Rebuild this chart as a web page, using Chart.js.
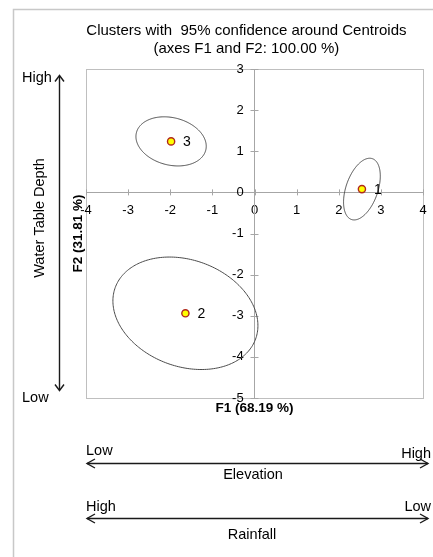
<!DOCTYPE html>
<html>
<head>
<meta charset="utf-8">
<script src="https://cdn.jsdelivr.net/npm/chart.js@4/dist/chart.umd.min.js"></script>
<style>
html,body{margin:0;padding:0;background:#fff;}
canvas{display:block;}
</style>
</head>
<body>
<canvas id="c" width="433" height="557"></canvas>
<script>
// ---- data ----
const clusterLabels = ['1', '2', '3'];
const centroidF1 = [2.55, -1.64, -1.98];
const centroidF2 = [0.08, -2.94, 1.24];
// 95% confidence ellipses (data units, angle in degrees from +F1 axis)
const ellipseSemiMajor = [0.78, 1.78, 0.85];
const ellipseSemiMinor = [0.38, 1.29, 0.575];
const ellipseAngleDeg = [71.7, -21.7, -15];
const f1Ticks = [-4, -3, -2, -1, 0, 1, 2, 3, 4];
const f2Ticks = [-5, -4, -3, -2, -1, 0, 1, 2, 3];
const titleLines = ['Clusters with  95% confidence around Centroids', '(axes F1 and F2: 100.00 %)'];
const f1Title = 'F1 (68.19 %)';
const f2Title = 'F2 (31.81 %)';

const FONT = "'Liberation Sans', Arial, sans-serif";
Chart.defaults.font.family = FONT;
Chart.defaults.color = '#000';

function chevron(ctx, tipX, tipY, dirX, dirY, len, half) {
  const bx = tipX - dirX * len, by = tipY - dirY * len;
  const px = -dirY, py = dirX;
  ctx.beginPath();
  ctx.moveTo(bx + px * half, by + py * half);
  ctx.lineTo(tipX, tipY);
  ctx.lineTo(bx - px * half, by - py * half);
  ctx.stroke();
}

const decor = {
  id: 'decor',
  beforeDraw(chart) {
    const ctx = chart.ctx;
    ctx.save();
    ctx.strokeStyle = '#C8C8C8';
    ctx.lineWidth = 1.5;
    ctx.beginPath();
    ctx.moveTo(13.5, 557);
    ctx.lineTo(13.5, 9.5);
    ctx.lineTo(433, 9.5);
    ctx.stroke();
    const ca = chart.chartArea;
    ctx.strokeStyle = '#BFBFBF';
    ctx.lineWidth = 1;
    ctx.strokeRect(Math.round(ca.left) + 0.5, Math.round(ca.top) + 0.5,
      Math.round(ca.right - ca.left), Math.round(ca.bottom - ca.top));
    ctx.restore();
  },
  beforeDatasetsDraw(chart) {
    const ctx = chart.ctx;
    const xs = chart.scales.x, ys = chart.scales.y;
    const x0 = xs.getPixelForValue(0), y0 = ys.getPixelForValue(0);
    ctx.save();
    // crossing tick marks on the zero axes
    ctx.strokeStyle = '#A6A6A6';
    ctx.lineWidth = 1;
    ctx.beginPath();
    xs.ticks.forEach(t => {
      const px = Math.round(xs.getPixelForValue(t.value)) + 0.5;
      ctx.moveTo(px, y0 - 3); ctx.lineTo(px, y0 + 3);
    });
    ys.ticks.forEach(t => {
      const py = Math.round(ys.getPixelForValue(t.value)) + 0.5;
      ctx.moveTo(x0 - 4, py); ctx.lineTo(x0 + 4, py);
    });
    ctx.stroke();
    // confidence ellipses
    ctx.strokeStyle = '#4a4a4a';
    ctx.lineWidth = 1;
    for (let i = 0; i < centroidF1.length; i++) {
      const th = ellipseAngleDeg[i] * Math.PI / 180;
      const a = ellipseSemiMajor[i], b = ellipseSemiMinor[i];
      ctx.beginPath();
      const steps = 240;
      for (let k = 0; k <= steps; k++) {
        const t = 2 * Math.PI * k / steps;
        const dx = a * Math.cos(t) * Math.cos(th) - b * Math.sin(t) * Math.sin(th);
        const dy = a * Math.cos(t) * Math.sin(th) + b * Math.sin(t) * Math.cos(th);
        const px = xs.getPixelForValue(centroidF1[i] + dx);
        const py = ys.getPixelForValue(centroidF2[i] + dy);
        if (k === 0) ctx.moveTo(px, py); else ctx.lineTo(px, py);
      }
      ctx.closePath();
      ctx.stroke();
    }
    ctx.restore();
  },
  afterDatasetsDraw(chart) {
    const ctx = chart.ctx;
    const meta = chart.getDatasetMeta(0);
    ctx.save();
    ctx.fillStyle = '#000';
    ctx.font = '14px ' + FONT;
    ctx.textAlign = 'left';
    ctx.textBaseline = 'middle';
    meta.data.forEach((el, i) => {
      ctx.fillText(clusterLabels[i], el.x + 12, el.y + 1);
    });
    ctx.restore();
  },
  afterDraw(chart) {
    const ctx = chart.ctx;
    ctx.save();
    ctx.fillStyle = '#000';
    ctx.strokeStyle = '#1a1a1a';
    ctx.lineWidth = 1.4;
    ctx.font = '14.5px ' + FONT;
    ctx.textBaseline = 'middle';
    // vertical: Water Table Depth
    ctx.textAlign = 'left';
    ctx.fillText('High', 22, 78);
    ctx.fillText('Low', 22, 398);
    ctx.beginPath();
    ctx.moveTo(59.5, 76); ctx.lineTo(59.5, 390);
    ctx.stroke();
    chevron(ctx, 59.5, 75.5, 0, -1, 6, 4.5);
    chevron(ctx, 59.5, 390.5, 0, 1, 6, 4.5);
    ctx.save();
    ctx.translate(40, 218);
    ctx.rotate(-Math.PI / 2);
    ctx.textAlign = 'center';
    ctx.fillText('Water Table Depth', 0, 0);
    ctx.restore();
    // Elevation
    ctx.textAlign = 'left';
    ctx.fillText('Low', 86, 451);
    ctx.textAlign = 'right';
    ctx.fillText('High', 431, 454);
    ctx.beginPath();
    ctx.moveTo(87, 463.5); ctx.lineTo(428, 463.5);
    ctx.stroke();
    chevron(ctx, 87, 463.5, -1, 0, 8, 4.5);
    chevron(ctx, 428, 463.5, 1, 0, 8, 4.5);
    ctx.textAlign = 'center';
    ctx.fillText('Elevation', 253, 474.5);
    // Rainfall
    ctx.textAlign = 'left';
    ctx.fillText('High', 86, 507);
    ctx.textAlign = 'right';
    ctx.fillText('Low', 431, 507);
    ctx.beginPath();
    ctx.moveTo(87, 518.5); ctx.lineTo(428, 518.5);
    ctx.stroke();
    chevron(ctx, 87, 518.5, -1, 0, 8, 4.5);
    chevron(ctx, 428, 518.5, 1, 0, 8, 4.5);
    ctx.textAlign = 'center';
    ctx.fillText('Rainfall', 252, 535);
    ctx.restore();
  }
};

const hiddenGrid = { display: false, drawTicks: false };

new Chart(document.getElementById('c').getContext('2d'), {
  type: 'scatter',
  data: {
    datasets: [{
      label: 'Centroids',
      xAxisID: 'x',
      yAxisID: 'y',
      data: centroidF1.map((v, i) => ({ x: v, y: centroidF2[i] })),
      pointRadius: 3.6,
      pointHoverRadius: 3.6,
      backgroundColor: '#FFFF00',
      borderColor: '#B0281C',
      borderWidth: 1.4
    }]
  },
  options: {
    responsive: false,
    animation: false,
    devicePixelRatio: 1,
    events: [],
    layout: { padding: { left: 69.8, right: 10, top: 22, bottom: 140.8 } },
    plugins: {
      legend: { display: false },
      tooltip: { enabled: false },
      title: {
        display: true,
        text: titleLines,
        color: '#000',
        font: { size: 15, weight: 'normal', lineHeight: 1.2 },
        padding: { top: 0, bottom: 11 }
      }
    },
    scales: {
      x: {
        type: 'linear', axis: 'x', min: -4, max: 4,
        position: { y: 0 },
        afterBuildTicks: s => { s.ticks = f1Ticks.map(v => ({ value: v })); },
        ticks: { font: { size: 13, lineHeight: 2.5 }, color: '#000', padding: 2, autoSkip: false, maxRotation: 0 },
        grid: hiddenGrid,
        border: { display: true, color: '#A6A6A6', width: 1 }
      },
      y: {
        type: 'linear', axis: 'y', min: -5, max: 3,
        position: { x: 0 },
        afterBuildTicks: s => { s.ticks = f2Ticks.map(v => ({ value: v })); },
        ticks: { font: { size: 13 }, color: '#000', padding: 0, autoSkip: false,
          callback: v => v + '   ' },
        grid: hiddenGrid,
        border: { display: true, color: '#A6A6A6', width: 1 }
      },
      xTitle: {
        type: 'linear', axis: 'x', position: 'bottom',
        ticks: { display: false },
        grid: hiddenGrid,
        border: { display: false },
        title: { display: true, text: f1Title, color: '#000',
          font: { size: 13.5, weight: 'bold', lineHeight: 1.2 }, padding: { top: 2, bottom: 0 } }
      },
      yTitle: {
        type: 'linear', axis: 'y', position: 'left',
        ticks: { display: false },
        grid: hiddenGrid,
        border: { display: false },
        title: { display: true, text: f2Title, color: '#000',
          font: { size: 13.5, weight: 'bold', lineHeight: 1.2 }, padding: { top: 0, bottom: 0 } }
      }
    }
  },
  plugins: [decor]
});
</script>
</body>
</html>
